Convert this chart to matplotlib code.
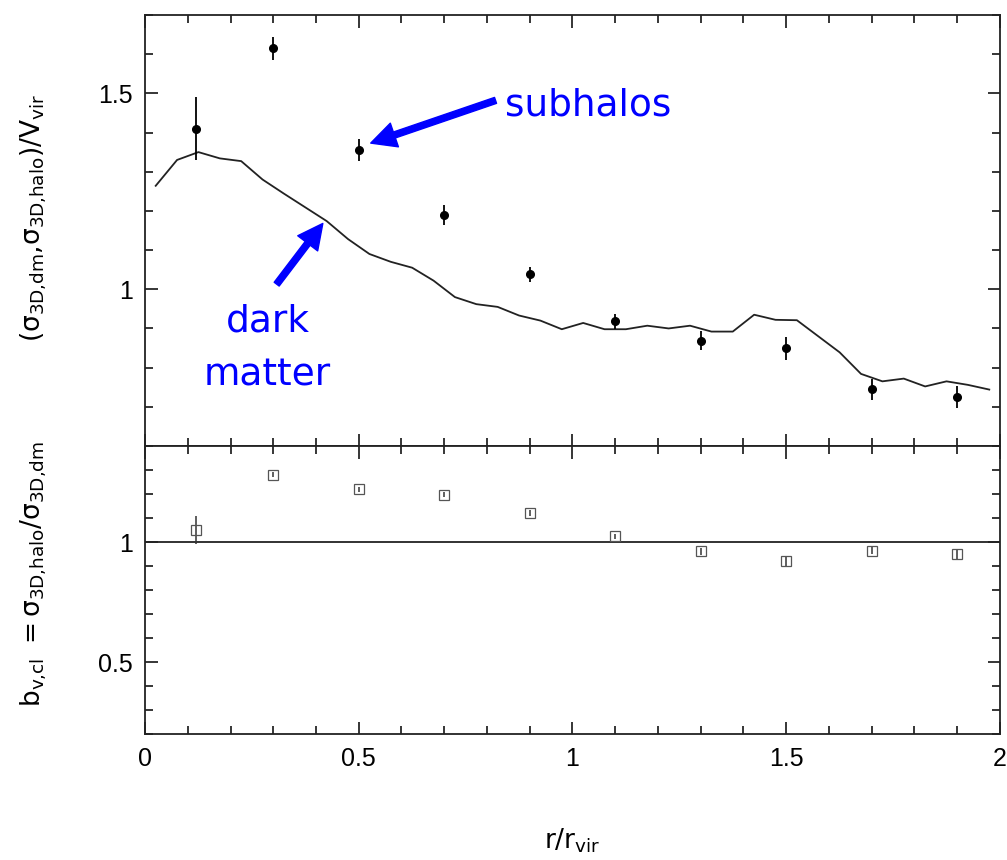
import matplotlib.pyplot as plt
from matplotlib.ticker import MultipleLocator

plt.rcParams['mathtext.default'] = 'regular'

# subhalo velocity dispersion (top panel)
r_sub = [0.12, 0.3, 0.5, 0.7, 0.9, 1.1, 1.3, 1.5, 1.7, 1.9]
sig_sub = [1.41, 1.615, 1.355, 1.19, 1.038, 0.918, 0.869, 0.849, 0.745, 0.726]
sig_sub_err = [0.08, 0.03, 0.028, 0.025, 0.02, 0.02, 0.025, 0.03, 0.027, 0.028]

# dark matter profile (solid line)
r_dm = [0.025, 0.075, 0.125, 0.175, 0.225, 0.275, 0.325, 0.375, 0.425, 0.475,
        0.525, 0.575, 0.625, 0.675, 0.725, 0.775, 0.825, 0.875, 0.925, 0.975,
        1.025, 1.075, 1.125, 1.175, 1.225, 1.275, 1.325, 1.375, 1.425, 1.475,
        1.525, 1.575, 1.625, 1.675, 1.725, 1.775, 1.825, 1.875, 1.925, 1.975]
sig_dm = [1.264, 1.33, 1.350, 1.334, 1.327, 1.28, 1.244, 1.209, 1.174, 1.128,
          1.09, 1.07, 1.055, 1.022, 0.98, 0.962, 0.955, 0.933, 0.920, 0.898,
          0.914, 0.898, 0.898, 0.907, 0.900, 0.907, 0.892, 0.892, 0.935, 0.922,
          0.921, 0.880, 0.839, 0.784, 0.765, 0.772, 0.752, 0.765, 0.756, 0.744]

# velocity bias (bottom panel)
bias = [1.05, 1.28, 1.22, 1.197, 1.12, 1.024, 0.961, 0.92, 0.964, 0.95]
bias_err = [0.06, 0.01, 0.01, 0.01, 0.012, 0.01, 0.015, 0.02, 0.015, 0.02]

fig = plt.figure(figsize=(10.07, 8.6), dpi=100)
ax1 = fig.add_axes([0.144, 0.4814, 0.849, 0.5012])
ax2 = fig.add_axes([0.144, 0.1465, 0.849, 0.3349], sharex=ax1)

for ax in (ax1, ax2):
    ax.set_xlim(0, 2)
    ax.xaxis.set_major_locator(MultipleLocator(0.5))
    ax.xaxis.set_minor_locator(MultipleLocator(0.1))
    ax.tick_params(which='both', direction='in', top=True, right=True, width=1.1,
                   labelsize=18, pad=9)
    ax.tick_params(which='major', length=9)
    ax.tick_params(which='minor', length=5.5)
    for s in ax.spines.values():
        s.set_linewidth(1.3)
        s.set_color('#222222')

ax1.plot(r_dm, sig_dm, color='#222222', lw=1.3)
ax1.errorbar(r_sub, sig_sub, yerr=sig_sub_err, fmt='o', color='black', ms=5.5,
             elinewidth=1.3, capsize=0)
ax1.set_ylim(0.6, 1.7)
ax1.yaxis.set_minor_locator(MultipleLocator(0.1))
ax1.set_yticks([1.0, 1.5])
ax1.set_yticklabels(['1', '1.5'])
ax1.tick_params(axis='x', labelbottom=False)
ax1.set_ylabel(r'$(\sigma_{3D{,}dm}{,}\sigma_{3D{,}halo})/V_{vir}$', fontsize=19)
ax1.yaxis.set_label_coords(-0.112, 0.53)

ax1.annotate('', xy=(0.528, 1.373), xytext=(0.82, 1.482),
             arrowprops=dict(facecolor='blue', edgecolor='blue', width=4.5,
                             headwidth=18, headlength=18, shrink=0))
ax1.annotate('', xy=(0.416, 1.168), xytext=(0.308, 1.013),
             arrowprops=dict(facecolor='blue', edgecolor='blue', width=4.5,
                             headwidth=18, headlength=18, shrink=0))
ax1.text(0.841, 1.444, 'subhalos', color='blue', fontsize=27, family='DejaVu Sans',
         ha='left', va='baseline')
ax1.text(0.287, 0.893, 'dark', color='blue', fontsize=27, family='DejaVu Sans',
         ha='center', va='baseline')
ax1.text(0.287, 0.754, 'matter', color='blue', fontsize=27, family='DejaVu Sans',
         ha='center', va='baseline')

ax2.axhline(1.0, color='#222222', lw=1.3)
ax2.errorbar(r_sub, bias, yerr=bias_err, fmt='s', mfc='none', mec='#555555',
             color='#333333', ms=7, mew=0.9, elinewidth=1.1, capsize=0)
ax2.set_ylim(0.2, 1.4)
ax2.yaxis.set_minor_locator(MultipleLocator(0.1))
ax2.set_yticks([0.5, 1.0])
ax2.set_yticklabels(['0.5', '1'])
ax2.set_xticks([0, 0.5, 1, 1.5, 2])
ax2.set_xticklabels(['0', '0.5', '1', '1.5', '2'])
ax2.set_ylabel(r'$b_{v{,}cl}\ =\sigma_{3D{,}halo}/\sigma_{3D{,}dm}$', fontsize=19)
ax2.yaxis.set_label_coords(-0.112, 0.555)
ax2.set_xlabel(r'$r/r_{vir}$', fontsize=19, labelpad=40)

for lab in ax1.get_yticklabels() + ax2.get_yticklabels() + ax2.get_xticklabels():
    lab.set_family('Liberation Sans')

fig.savefig('out.png', dpi=100)
